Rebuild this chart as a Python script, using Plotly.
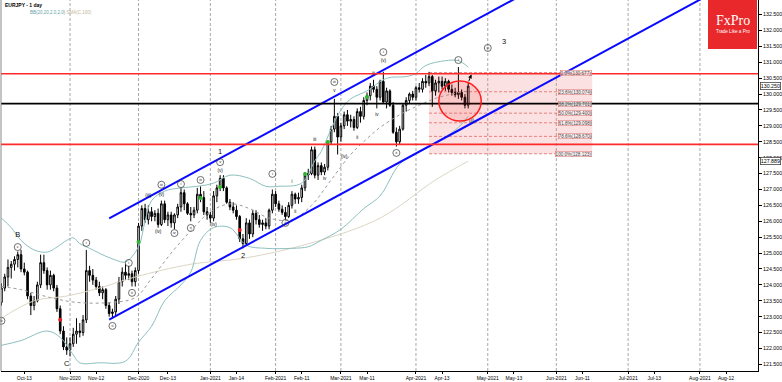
import plotly.graph_objects as go

# ---------------- candle data (daily EURJPY) ----------------
dates = ["2020-10-02","2020-10-05","2020-10-06","2020-10-07","2020-10-08","2020-10-09","2020-10-12","2020-10-13","2020-10-14","2020-10-15",
"2020-10-16","2020-10-19","2020-10-20","2020-10-21","2020-10-22","2020-10-23","2020-10-26","2020-10-27","2020-10-28","2020-10-29",
"2020-10-30","2020-11-02","2020-11-03","2020-11-04","2020-11-05","2020-11-06","2020-11-09","2020-11-10","2020-11-11","2020-11-12",
"2020-11-13","2020-11-16","2020-11-17","2020-11-18","2020-11-19","2020-11-20","2020-11-23","2020-11-24","2020-11-25","2020-11-26",
"2020-11-27","2020-11-30","2020-12-01","2020-12-02","2020-12-03","2020-12-04","2020-12-07","2020-12-08","2020-12-09","2020-12-10",
"2020-12-11","2020-12-14","2020-12-15","2020-12-16","2020-12-17","2020-12-18","2020-12-21","2020-12-22","2020-12-23","2020-12-24",
"2020-12-28","2020-12-29","2020-12-30","2020-12-31","2021-01-04","2021-01-05","2021-01-06","2021-01-07","2021-01-08","2021-01-11",
"2021-01-12","2021-01-13","2021-01-14","2021-01-15","2021-01-18","2021-01-19","2021-01-20","2021-01-21","2021-01-22","2021-01-25",
"2021-01-26","2021-01-27","2021-01-28","2021-01-29","2021-02-01","2021-02-02","2021-02-03","2021-02-04","2021-02-05","2021-02-08",
"2021-02-09","2021-02-10","2021-02-11","2021-02-12","2021-02-15","2021-02-16","2021-02-17","2021-02-18","2021-02-19","2021-02-22",
"2021-02-23","2021-02-24","2021-02-25","2021-02-26","2021-03-01","2021-03-02","2021-03-03","2021-03-04","2021-03-05","2021-03-08",
"2021-03-09","2021-03-10","2021-03-11","2021-03-12","2021-03-15","2021-03-16","2021-03-17","2021-03-18","2021-03-19","2021-03-22",
"2021-03-23","2021-03-24","2021-03-25","2021-03-26","2021-03-29","2021-03-30","2021-03-31","2021-04-01","2021-04-02","2021-04-05",
"2021-04-06","2021-04-07","2021-04-08","2021-04-09","2021-04-12","2021-04-13","2021-04-14","2021-04-15","2021-04-16","2021-04-19",
"2021-04-20","2021-04-21","2021-04-22","2021-04-23"]

opens = [123.45,123.90,124.25,124.55,124.65,124.80,124.95,124.50,124.40,123.65,
123.35,123.50,124.00,124.70,124.45,124.00,124.30,123.90,123.25,122.55,
122.05,121.95,122.15,122.45,122.55,122.50,122.90,124.45,124.30,124.15,
123.95,123.75,123.85,123.35,123.10,123.15,123.55,124.10,124.40,124.30,
124.35,124.10,124.45,125.85,126.40,126.05,126.30,126.15,126.25,125.90,
126.55,126.05,126.20,125.95,126.20,126.45,126.90,126.55,126.25,126.20,
126.35,126.85,126.75,126.30,126.20,126.10,126.80,127.05,127.35,127.05,
126.60,126.45,126.35,126.15,125.45,125.30,125.95,125.60,126.25,126.05,
125.90,125.95,125.85,126.35,126.85,126.55,126.38,126.28,126.15,126.50,
126.85,126.70,126.75,127.05,127.45,127.50,128.25,127.45,127.75,127.55,
127.70,128.50,128.90,129.30,128.65,129.00,129.35,129.15,129.20,128.95,
129.45,129.30,129.80,129.95,130.25,130.15,129.90,130.40,129.75,130.10,
129.65,128.80,128.50,128.90,129.65,129.80,130.00,129.90,130.20,130.15,
130.40,130.35,130.55,130.10,130.35,130.40,130.25,130.40,130.15,130.05,
129.98,130.05,129.90,129.65]

highs = [124.05,124.35,124.80,124.75,124.90,125.05,125.10,124.70,124.45,123.75,
123.65,124.10,124.95,124.95,124.55,124.45,124.35,124.00,123.35,122.70,
122.35,122.35,122.65,122.95,122.80,123.05,125.10,124.60,124.50,124.25,
124.10,123.95,123.90,123.45,123.25,123.65,124.25,124.55,124.65,124.60,
124.45,124.55,125.95,126.50,126.55,126.50,126.45,126.35,126.40,126.65,
126.65,126.30,126.30,126.25,126.55,127.05,127.00,126.60,126.45,126.45,
127.05,127.10,126.95,126.45,126.30,126.95,127.15,127.45,127.45,127.10,
126.70,126.60,126.50,126.20,125.60,126.10,126.05,126.35,126.35,126.20,
126.05,126.10,126.40,127.00,126.95,126.65,126.50,126.45,126.60,126.95,
126.90,126.90,127.15,127.55,127.65,128.35,128.35,127.85,127.85,127.80,
128.55,129.00,129.85,129.40,129.10,129.45,129.50,129.35,129.30,129.55,
129.60,129.90,130.05,130.35,130.45,130.25,130.45,130.70,130.20,130.15,
129.75,128.95,129.00,129.70,129.90,130.05,130.10,130.25,130.35,130.50,
130.60,130.70,130.60,130.45,130.55,130.55,130.50,130.45,130.30,130.20,
130.85,130.15,130.00,130.35]

lows = [123.35,123.80,123.95,124.20,124.45,124.55,124.40,124.30,123.55,123.05,
123.20,123.45,123.90,124.35,123.85,123.85,123.80,123.15,122.45,121.95,
121.80,121.75,122.05,122.15,122.35,122.40,122.80,124.10,124.00,123.85,
123.65,123.55,123.25,123.00,122.95,123.00,123.40,123.95,124.15,124.15,
123.95,123.95,124.35,125.70,125.95,125.90,126.00,126.00,125.80,125.85,
125.95,125.85,125.80,125.75,126.10,126.30,126.35,126.20,126.00,126.10,
126.25,126.60,126.20,126.05,125.95,126.00,126.60,126.95,126.95,126.55,
126.35,126.25,126.05,125.35,125.15,125.25,125.45,125.50,125.90,125.80,
125.70,125.75,125.75,126.25,126.45,126.30,126.20,126.05,126.10,126.40,
126.55,126.55,126.60,126.95,127.30,127.45,127.35,127.30,127.45,127.45,
127.60,128.40,128.80,128.10,128.50,128.90,129.00,128.95,128.85,128.90,
129.10,129.20,129.65,129.80,130.05,129.55,129.80,129.70,129.55,129.60,
128.75,128.35,128.40,128.85,129.45,129.70,129.80,129.80,130.05,130.05,
130.20,130.25,129.60,129.95,130.05,130.15,130.10,130.05,129.95,129.90,
129.85,129.80,129.55,129.55]

closes = [123.90,124.25,124.55,124.65,124.80,124.95,124.50,124.40,123.65,123.35,
123.50,124.00,124.70,124.45,124.00,124.30,123.90,123.25,122.55,122.05,
121.95,122.15,122.45,122.55,122.50,122.90,124.45,124.30,124.15,123.95,
123.75,123.85,123.35,123.10,123.15,123.55,124.10,124.40,124.30,124.35,
124.10,124.45,125.85,126.40,126.05,126.30,126.15,126.25,125.90,126.55,
126.05,126.20,125.95,126.20,126.45,126.90,126.55,126.25,126.20,126.35,
126.85,126.75,126.30,126.20,126.10,126.80,127.05,127.35,127.05,126.60,
126.45,126.35,126.15,125.45,125.30,125.95,125.60,126.25,126.05,125.90,
125.95,125.85,126.35,126.85,126.55,126.38,126.28,126.15,126.50,126.85,
126.70,126.75,127.05,127.45,127.50,128.25,127.45,127.75,127.55,127.70,
128.50,128.90,129.30,128.65,129.00,129.35,129.15,129.20,128.95,129.45,
129.30,129.80,129.95,130.25,130.15,129.90,130.40,129.75,130.10,129.65,
128.80,128.50,128.90,129.65,129.80,130.00,129.90,130.20,130.15,130.40,
130.35,130.55,130.10,130.35,130.40,130.25,130.40,130.15,130.05,129.98,
130.05,129.90,129.65,130.25]

# ---------------- indicators ----------------
bbu_dates = ["2020-10-02","2020-10-07","2020-10-12","2020-10-16","2020-10-22","2020-10-27","2020-10-30","2020-11-03","2020-11-05",
"2020-11-10","2020-11-17","2020-11-20","2020-11-25","2020-12-01","2020-12-03","2020-12-07","2020-12-11","2020-12-18","2020-12-28",
"2021-01-05","2021-01-12","2021-01-20","2021-01-27","2021-02-02","2021-02-11","2021-02-17","2021-02-19","2021-02-24","2021-03-01",
"2021-03-04","2021-03-11","2021-03-19","2021-03-29","2021-04-01","2021-04-06","2021-04-14","2021-04-20","2021-04-23"]
bbu_vals = [126.10,125.80,125.40,125.10,125.03,125.19,125.40,125.48,125.30,
125.15,124.90,124.78,124.72,125.20,126.00,126.65,126.95,127.05,127.10,
127.20,127.45,127.35,127.10,127.10,127.20,127.90,128.20,128.90,129.50,
129.85,130.10,130.50,130.55,130.65,130.90,131.05,131.05,130.85]

bbm_dates = ["2020-10-02","2020-10-12","2020-10-23","2020-11-04","2020-11-19","2020-11-30","2020-12-07","2020-12-15","2020-12-23",
"2021-01-04","2021-01-12","2021-01-20","2021-01-28","2021-02-08","2021-02-16","2021-02-24","2021-03-04","2021-03-11","2021-03-17",
"2021-03-25","2021-04-02","2021-04-12","2021-04-23"]
bbm_vals = [123.95,123.85,123.60,123.45,123.45,123.60,124.20,125.00,125.70,
126.30,126.55,126.40,126.10,126.05,126.50,127.30,128.10,128.60,128.95,
129.35,129.65,129.90,130.10]

bbl_dates = ["2020-10-02","2020-10-12","2020-10-22","2020-10-28","2020-11-03","2020-11-05","2020-11-13","2020-11-25","2020-12-01",
"2020-12-07","2020-12-11","2020-12-18","2020-12-23","2020-12-29","2021-01-05","2021-01-12","2021-01-19","2021-01-27","2021-02-08",
"2021-02-15","2021-02-19","2021-03-01","2021-03-10","2021-03-17","2021-03-25","2021-04-02","2021-04-09","2021-04-20","2021-04-23"]
bbl_vals = [122.10,122.25,122.55,122.35,121.80,121.55,121.55,121.60,122.20,
122.70,123.50,124.00,124.40,125.40,125.80,125.80,125.25,125.15,125.15,
125.20,125.40,125.75,126.40,126.80,127.80,128.20,128.45,128.95,129.30]

sma_dates = ["2020-10-02","2020-10-16","2020-10-30","2020-11-13","2020-11-30","2020-12-23","2021-01-19","2021-02-17","2021-03-17",
"2021-04-09","2021-04-23"]
sma_vals = [122.95,123.50,123.65,123.90,124.25,124.65,124.85,125.35,126.10,127.30,127.89]

green_dates = ["2020-12-01","2020-12-29","2021-01-07","2021-02-12","2021-02-23","2021-03-11"]
green_vals = [125.35,126.73,127.08,127.49,128.49,129.91]
red_dates = ["2020-10-28","2021-01-15"]
red_vals = [122.90,125.73]

# ---------------- drawn objects ----------------
chan_upper_dates = ["2020-11-18","2021-05-26"]
chan_upper_vals = [126.09,133.48]
chan_lower_dates = ["2020-11-18","2021-08-13"]
chan_lower_vals = [122.91,133.47]

red_levels = [130.64,128.42]
black_level = 129.70

fib_start, fib_end = "2021-04-07", "2021-06-16"
fib_pcts = [0.0,23.6,38.2,50.0,61.8,78.6,100.0]
fib_prices = [130.677,130.074,129.701,129.400,129.098,128.670,128.123]

circle_box = ("2021-04-12","2021-04-29",129.15,130.41)
arrow_tail = ("2021-04-23",130.36)
arrow_head = ("2021-04-26",130.62)

circ_text = ["b","c","i","ii","i","ii","iii","iv","i","ii","iii","v","i","ii","iii","i","ii","i","iii"]
circ_dates = ["2020-10-02","2020-10-09","2020-11-09","2020-11-19","2020-11-26","2020-11-27","2020-12-10","2020-12-16",
"2020-12-18","2020-12-23","2020-12-29","2021-01-07","2021-01-29","2021-02-04","2021-02-25","2021-03-18","2021-03-24",
"2021-04-20","2021-05-03"]
circ_vals = [122.87,125.19,125.32,122.71,124.69,123.75,127.15,125.63,127.17,125.79,127.30,127.86,127.49,125.95,
130.38,131.32,128.15,131.07,131.45]

plain_text = ["(iii)","(v)","(iv)","(iv)","(v)","i","ii","iii","iv","v","(iv)","ii","iii","iv","(v)","(ii)"]
plain_dates = ["2020-12-04","2020-12-10","2020-12-09","2021-01-05","2021-01-07","2021-02-08","2021-02-09","2021-02-17",
"2021-02-22","2021-02-25","2021-03-02","2021-03-08","2021-03-15","2021-03-16","2021-03-18","2021-04-26"]
plain_vals = [126.80,126.83,125.66,125.88,127.58,127.24,126.29,128.56,127.33,130.10,128.02,128.62,130.63,129.34,131.04,129.15]

big_text = ["B","C","1","2","3"]
big_dates = ["2020-10-09","2020-10-30","2021-01-07","2021-01-18","2021-05-10"]
big_vals = [125.57,121.51,128.18,124.91,131.64]

xtick_dates = ["2020-10-13","2020-11-02","2020-11-12","2020-12-01","2020-12-14","2021-01-04","2021-01-14","2021-02-01",
"2021-02-11","2021-03-01","2021-03-11","2021-04-01","2021-04-13","2021-05-03","2021-05-13","2021-06-01","2021-06-11",
"2021-07-01","2021-07-13","2021-08-02","2021-08-12"]
xtick_text = ["Oct-13","Nov-2020","Nov-12","Dec-2020","Dec-13","Jan-2021","Jan-14","Feb-2021","Feb-11","Mar-2021","Mar-11",
"Apr-2021","Apr-13","May-2021","May-13","Jun-2021","Jun-11","Jul-2021","Jul-13","Aug-2021","Aug-12"]
sep_dates = ["2020-11-02","2020-12-01","2021-01-04","2021-02-01","2021-03-01","2021-04-01","2021-05-03","2021-06-01",
"2021-07-01","2021-08-02"]
ytick_vals = [121.5,122.0,122.5,123.0,123.5,124.0,124.5,125.0,125.5,126.0,126.5,127.0,127.5,128.0,128.5,129.0,
129.5,130.0,130.5,131.0,131.5,132.0,132.5]
ytick_text = ["%.3f" % v for v in ytick_vals]
last_price = 130.250
sma_last = 127.889

FONT = "Liberation Sans, Arial, sans-serif"
W, H = 782, 382
ML, MR, MT, MB = 1, 24, 0, 11
PW, PH = W - ML - MR, H - MT - MB

def px(xp):
    return (xp - ML) / PW

def py(yp):
    return 1 - (yp - MT) / PH

fig = go.Figure()

shapes = []
shapes.append(dict(type="rect", xref="x", yref="y", x0=fib_start, x1=fib_end, y0=fib_prices[-1], y1=fib_prices[0],
                   fillcolor="rgba(238,120,120,0.22)", line=dict(width=0), layer="below"))
for p in fib_prices:
    shapes.append(dict(type="line", xref="x", yref="y", x0=fib_start, x1=fib_end, y0=p, y1=p,
                       line=dict(color="rgba(225,95,95,0.75)", width=1, dash="3px,2px"), layer="below"))
for d in sep_dates:
    shapes.append(dict(type="line", xref="x", yref="paper", x0=d, x1=d, y0=0, y1=1,
                       line=dict(color="#a8a8a8", width=1, dash="3px,2px"), layer="below"))

# indicators
fig.add_trace(go.Scatter(x=sma_dates, y=sma_vals, mode="lines", line=dict(color="#dcd6c4", width=1, shape="spline"), hoverinfo="skip"))
fig.add_trace(go.Scatter(x=bbu_dates, y=bbu_vals, mode="lines", line=dict(color="#8dbfbf", width=1, shape="spline"), hoverinfo="skip"))
fig.add_trace(go.Scatter(x=bbl_dates, y=bbl_vals, mode="lines", line=dict(color="#8dbfbf", width=1, shape="spline"), hoverinfo="skip"))
fig.add_trace(go.Scatter(x=bbm_dates, y=bbm_vals, mode="lines", line=dict(color="#9a9a9a", width=1, dash="dot", shape="spline"), hoverinfo="skip"))

# candles
fig.add_trace(go.Candlestick(x=dates, open=opens, high=highs, low=lows, close=closes,
                             increasing=dict(line=dict(color="#000000", width=1), fillcolor="#ffffff"),
                             decreasing=dict(line=dict(color="#000000", width=1), fillcolor="#000000"),
                             whiskerwidth=0, hoverinfo="skip"))

# signal dots
fig.add_trace(go.Scatter(x=green_dates, y=green_vals, mode="markers", marker=dict(color="#2db82d", size=4), hoverinfo="skip"))
fig.add_trace(go.Scatter(x=red_dates, y=red_vals, mode="markers", marker=dict(color="#e02020", size=4), hoverinfo="skip"))

# channel lines
fig.add_trace(go.Scatter(x=chan_upper_dates, y=chan_upper_vals, mode="lines", line=dict(color="#0a0aff", width=2), hoverinfo="skip"))
fig.add_trace(go.Scatter(x=chan_lower_dates, y=chan_lower_vals, mode="lines", line=dict(color="#0a0aff", width=2), hoverinfo="skip"))

for p in red_levels:
    shapes.append(dict(type="line", xref="paper", yref="y", x0=0, x1=1, y0=p, y1=p, line=dict(color="#ff2a2a", width=1.6)))
shapes.append(dict(type="line", xref="paper", yref="y", x0=0, x1=1, y0=black_level, y1=black_level, line=dict(color="#000000", width=1.6)))

shapes.append(dict(type="circle", xref="x", yref="y", x0=circle_box[0], x1=circle_box[1], y0=circle_box[2], y1=circle_box[3],
                   line=dict(color="#ff1a1a", width=1.5), fillcolor="rgba(255,40,40,0.13)"))

# wave labels
fig.add_trace(go.Scatter(x=circ_dates, y=circ_vals, mode="markers+text", text=circ_text, textposition="middle center",
                         textfont=dict(family=FONT, size=4, color="#111"),
                         marker=dict(symbol="circle-open", size=7, color="#333", line=dict(width=0.7)),
                         cliponaxis=False, hoverinfo="skip"))
fig.add_trace(go.Scatter(x=plain_dates, y=plain_vals, mode="text", text=plain_text, textposition="middle center",
                         textfont=dict(family=FONT, size=4.6, color="#111"), hoverinfo="skip"))
fig.add_trace(go.Scatter(x=big_dates, y=big_vals, mode="text", text=big_text, textposition="middle center",
                         textfont=dict(family=FONT, size=7.5, color="#111"), hoverinfo="skip"))

annotations = []
for pct, p in zip(fib_pcts, fib_prices):
    annotations.append(dict(x=fib_end, y=p, xref="x", yref="y", xanchor="right", yanchor="middle",
                            text="%.1f%%(%.3f)" % (pct, p), showarrow=False,
                            font=dict(family=FONT, size=4.6, color="#444"),
                            bgcolor="rgba(255,255,255,0.7)", bordercolor="rgba(220,110,110,0.9)", borderwidth=0.6, borderpad=0))
annotations.append(dict(x=arrow_head[0], y=arrow_head[1], ax=arrow_tail[0], ay=arrow_tail[1], xref="x", yref="y",
                        axref="x", ayref="y", showarrow=True, arrowhead=2, arrowsize=0.8, arrowwidth=1, arrowcolor="#000", text=""))
for v in (last_price, sma_last):
    annotations.append(dict(x=1, y=v, xref="paper", yref="y", xanchor="left", yanchor="middle", xshift=2,
                            text="%.3f" % v, showarrow=False, font=dict(family=FONT, size=5.3, color="#000"),
                            bgcolor="#ffffff", bordercolor="#444", borderwidth=0.8, borderpad=0))
annotations.append(dict(x=px(3), y=py(5), xref="paper", yref="paper", xanchor="left", yanchor="middle",
                        text="<b>EURJPY - 1 day</b>", showarrow=False, font=dict(family=FONT, size=5, color="#000")))
annotations.append(dict(x=px(28), y=py(12.5), xref="paper", yref="paper", xanchor="left", yanchor="middle",
                        text="<span style='color:#5fa3a3'>BB(20,20,2.0,2.0)</span> <span style='color:#bfb795'>SMA(C,100)</span>",
                        showarrow=False, font=dict(family=FONT, size=4.5)))
shapes.append(dict(type="rect", xref="paper", yref="paper", x0=px(708), x1=px(757), y0=py(49), y1=1,
                   fillcolor="#e8282b", line=dict(width=0)))
annotations.append(dict(x=px(732.5), y=py(21), xref="paper", yref="paper", xanchor="center", yanchor="middle",
                        text="FxPro", showarrow=False, font=dict(family="Liberation Serif, Times New Roman, serif", size=14, color="#ffffff")))
annotations.append(dict(x=px(732.5), y=py(31.5), xref="paper", yref="paper", xanchor="center", yanchor="middle",
                        text="Trade Like a Pro", showarrow=False, font=dict(family=FONT, size=4.6, color="#ffffff")))
shapes.append(dict(type="line", xref="paper", yref="paper", x0=0, x1=0, y0=0, y1=1, line=dict(color="#888", width=1)))

fig.update_layout(
    width=W, height=H, margin=dict(l=ML, r=MR, t=MT, b=MB),
    paper_bgcolor="#ffffff", plot_bgcolor="#ffffff", showlegend=False,
    shapes=shapes, annotations=annotations,
    font=dict(family=FONT, size=5.3, color="#000"),
    xaxis=dict(type="date", range=["2020-10-01 20:40", "2021-08-25 19:00"],
               rangebreaks=[dict(bounds=["sat", "mon"]), dict(values=["2020-12-25", "2021-01-01"])],
               tickvals=xtick_dates, ticktext=xtick_text, ticks="outside", ticklen=2, tickcolor="#000",
               tickfont=dict(family=FONT, size=5, color="#000"),
               showgrid=False, zeroline=False, showline=True, linecolor="#000", linewidth=1,
               rangeslider=dict(visible=False), fixedrange=True),
    yaxis=dict(side="right", range=[121.292, 132.959], tickvals=ytick_vals, ticktext=ytick_text,
               ticks="outside", ticklen=3, tickcolor="#000", tickfont=dict(family=FONT, size=5.3, color="#000"),
               showgrid=False, zeroline=False, showline=True, linecolor="#000", linewidth=1, fixedrange=True),
)

fig.write_html("out.html", config={"displayModeBar": False, "staticPlot": True},
               post_script="document.body.style.margin='0';document.body.style.padding='0';")
